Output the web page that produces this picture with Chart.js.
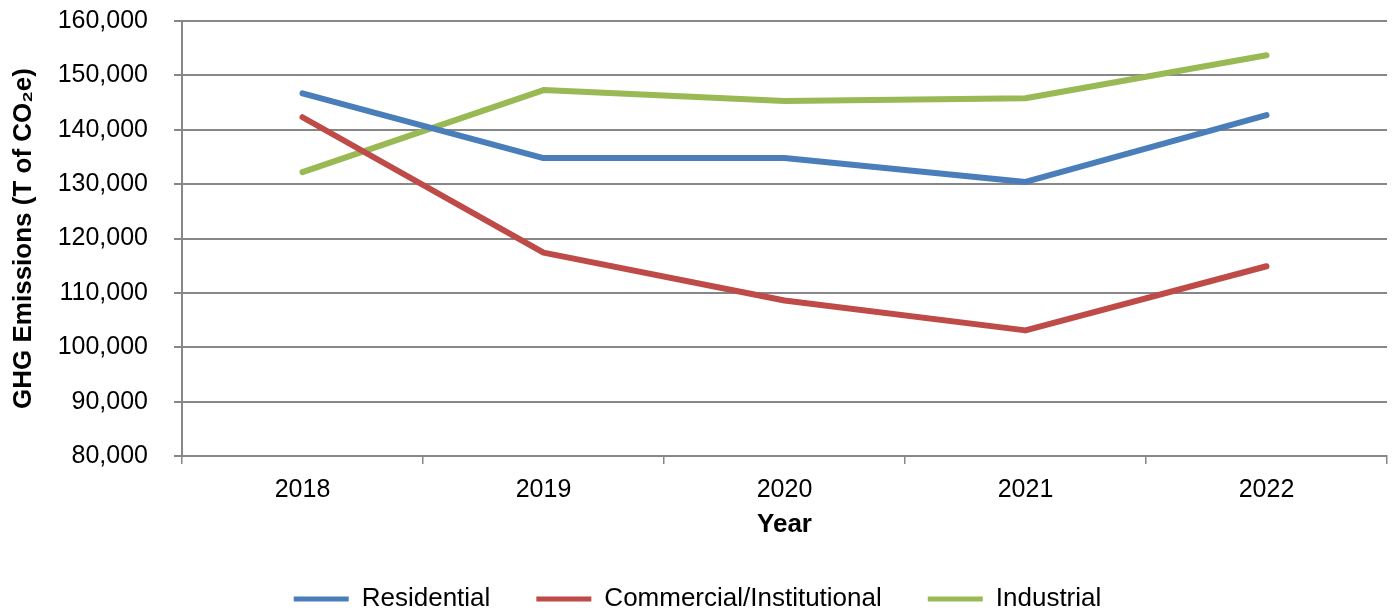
<!DOCTYPE html>
<html lang="en">
<head>
    <meta charset="UTF-8">
    <title>GHG Emissions</title>
    <style>
        html, body { margin: 0; padding: 0; background: #fff; }
        #wrap { width: 1393px; height: 612px; }
    </style>
</head>
<body>
    <div id="wrap">
        <canvas id="myChart"></canvas>
    </div>

    <script src="https://cdn.jsdelivr.net/npm/chart.js"></script>

    <script>
        const years = ['2018', '2019', '2020', '2021', '2022']
        const residential = [146700, 134800, 134800, 130400, 142700]
        const commercial = [142300, 117400, 108600, 103100, 114900]
        const industrial = [132200, 147300, 145300, 145800, 153700]

        const font = 'Liberation Sans, Arial, sans-serif'
        const gridColor = '#878787'

        function series(label, data, color) {
            return {
                label, data,
                borderColor: color,
                backgroundColor: color,
                borderWidth: 6,
                borderCapStyle: 'round',
                borderJoinStyle: 'round',
                pointRadius: 0,
                tension: 0,
                fill: false
            }
        }

        const ctx = document.getElementById('myChart')
        new Chart(ctx, {
            type: 'line',
            data: {
                labels: years,
                datasets: [
                    series('Residential', residential, '#4A7EBB'),
                    series('Commercial/Institutional', commercial, '#BE4B48'),
                    series('Industrial', industrial, '#98B954')
                ]
            },
            options: {
                responsive: true,
                maintainAspectRatio: false,
                animation: false,
                layout: { padding: { top: 21, right: 6, left: 8, bottom: -10 } },
                scales: {
                    x: {
                        offset: true,
                        grid: {
                            offset: true,
                            drawOnChartArea: false,
                            drawTicks: true,
                            tickLength: 8,
                            color: gridColor,
                            lineWidth: 1.5
                        },
                        border: { color: gridColor, width: 2 },
                        ticks: { color: '#000', font: { family: font, size: 25 }, padding: 11 },
                        title: {
                            display: true,
                            text: 'Year',
                            color: '#000',
                            font: { family: font, size: 26, weight: 'bold' },
                            padding: { top: 4, bottom: 0 }
                        },
                        afterFit: scale => { scale.height = 84 }
                    },
                    y: {
                        min: 80000,
                        max: 160000,
                        ticks: {
                            stepSize: 10000,
                            color: '#000',
                            font: { family: font, size: 25 },
                            padding: 26,
                            callback: v => v.toLocaleString('en-US')
                        },
                        grid: { color: gridColor, lineWidth: 2, tickLength: 8 },
                        border: { color: gridColor, width: 2 },
                        title: {
                            display: true,
                            text: 'GHG Emissions (T of CO\u2082e)',
                            color: '#000',
                            font: { family: font, size: 26, weight: 'bold' },
                            padding: { top: 0, bottom: 6 }
                        },
                        afterFit: scale => {
                            scale.width = 174
                            scale.paddingTop = 0
                            scale.paddingBottom = 0
                        }
                    }
                },
                plugins: {
                    legend: {
                        position: 'bottom',
                        labels: {
                            color: '#000',
                            font: { family: font, size: 26 },
                            boxWidth: 55,
                            boxHeight: 5,
                            padding: 46,
                            generateLabels: chart => chart.data.datasets.map((ds, i) => ({
                                text: ds.label,
                                fillStyle: ds.borderColor,
                                strokeStyle: ds.borderColor,
                                lineWidth: 0,
                                datasetIndex: i
                            }))
                        }
                    },
                    tooltip: { enabled: false }
                }
            }
        })
    </script>
</body>
</html>
